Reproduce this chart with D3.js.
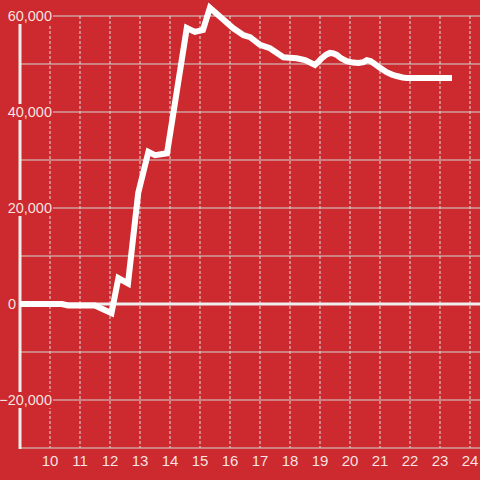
<!DOCTYPE html>
<html>
<head>
<meta charset="utf-8">
<script src="https://cdn.jsdelivr.net/npm/d3@7"></script>
<style>
  html, body { margin: 0; padding: 0; background: #cc2a2e; }
  svg { display: block; font-family: "Liberation Sans", Arial, sans-serif; }
</style>
</head>
<body>
<div id="chart"></div>
<script>
// hour of day (decimal) and running value
const hours = [9, 10.4, 10.6, 11.5, 12.05, 12.28, 12.6, 12.94, 13.28, 13.5, 13.9, 14.06,
  14.56, 14.83, 15.1, 15.33, 16.1, 16.45, 16.67, 17.0, 17.33, 17.78, 18.22, 18.5, 18.83, 18.95, 19.06,
  19.2, 19.33, 19.45, 19.56, 19.7, 19.89, 20.1, 20.28, 20.45, 20.56, 20.68, 20.78, 21.0, 21.22, 21.4,
  21.56, 21.75, 21.89, 23.4];
const values = [0, 0, -300, -300, -1900, 5400, 4300, 23100, 31700, 31000, 31400, 37700,
  57500, 56700, 57100, 61700, 57500, 56000, 55600, 54000, 53300, 51400, 51200, 50800, 49800, 50500, 51200,
  51900, 52300, 52200, 51900, 51200, 50600, 50300, 50200, 50400, 50800, 50600, 50200, 49200, 48300, 47800,
  47500, 47200, 47100, 47100];

const xTicks = [10, 11, 12, 13, 14, 15, 16, 17, 18, 19, 20, 21, 22, 23, 24];
const yGrid = [-30000, -20000, -10000, 0, 10000, 20000, 30000, 40000, 50000, 60000];
const yLabels = [-20000, 0, 20000, 40000, 60000];

const W = 480, H = 480;
const bg = "#cc2a2e";

const svg = d3.select("#chart").append("svg")
  .attr("width", W)
  .attr("height", H);

svg.append("rect").attr("width", W).attr("height", H).attr("fill", bg);

const x = d3.scaleLinear().domain([9, 24]).range([20, 470]);
const y = d3.scaleLinear().domain([-30000, 60000]).range([448, 16]);

// horizontal grid
svg.append("g")
  .selectAll("line")
  .data(yGrid)
  .enter().append("line")
  .attr("x1", x(9)).attr("x2", W)
  .attr("y1", d => y(d)).attr("y2", d => y(d))
  .attr("stroke", "#d4d4d4")
  .attr("stroke-width", 1.2);

// vertical dashed grid
svg.append("g")
  .selectAll("line")
  .data(xTicks)
  .enter().append("line")
  .attr("x1", d => x(d)).attr("x2", d => x(d))
  .attr("y1", y(60000)).attr("y2", y(-30000))
  .attr("stroke", "#e0e0e0")
  .attr("stroke-width", 1)
  .attr("stroke-dasharray", "3,2");

// zero line
svg.append("line")
  .attr("x1", x(9)).attr("x2", W)
  .attr("y1", y(0)).attr("y2", y(0))
  .attr("stroke", "#eeeeee")
  .attr("stroke-width", 3);

// y axis
svg.append("line")
  .attr("x1", x(9)).attr("x2", x(9))
  .attr("y1", y(60000)).attr("y2", y(-30000) + 1)
  .attr("stroke", "#eeeeee")
  .attr("stroke-width", 3);

// y labels with a background patch
const fmt = d3.format(",");
const yl = svg.append("g")
  .selectAll("g")
  .data(yLabels)
  .enter().append("g");

yl.filter(d => d !== 0).append("rect")
  .attr("x", 0).attr("width", 53)
  .attr("y", d => y(d) - 8).attr("height", 16)
  .attr("fill", bg);

yl.append("text")
  .attr("x", d => d === 0 ? 16 : 52)
  .attr("y", d => y(d) + 5)
  .attr("text-anchor", "end")
  .attr("font-size", 14.5)
  .attr("fill", "rgba(255,255,255,0.88)")
  .text(d => fmt(d));

// x labels
svg.append("g")
  .selectAll("text")
  .data(xTicks)
  .enter().append("text")
  .attr("x", d => x(d))
  .attr("y", 466)
  .attr("text-anchor", "middle")
  .attr("font-size", 15)
  .attr("fill", "rgba(255,255,255,0.88)")
  .text(d => d);

// data line
const pts = hours.map((h, i) => [h, values[i]]);
const line = d3.line()
  .x(d => x(d[0]))
  .y(d => y(d[1]));

svg.append("path")
  .datum(pts)
  .attr("d", line)
  .attr("fill", "none")
  .attr("stroke", "#ffffff")
  .attr("stroke-width", 6);
</script>
</body>
</html>
